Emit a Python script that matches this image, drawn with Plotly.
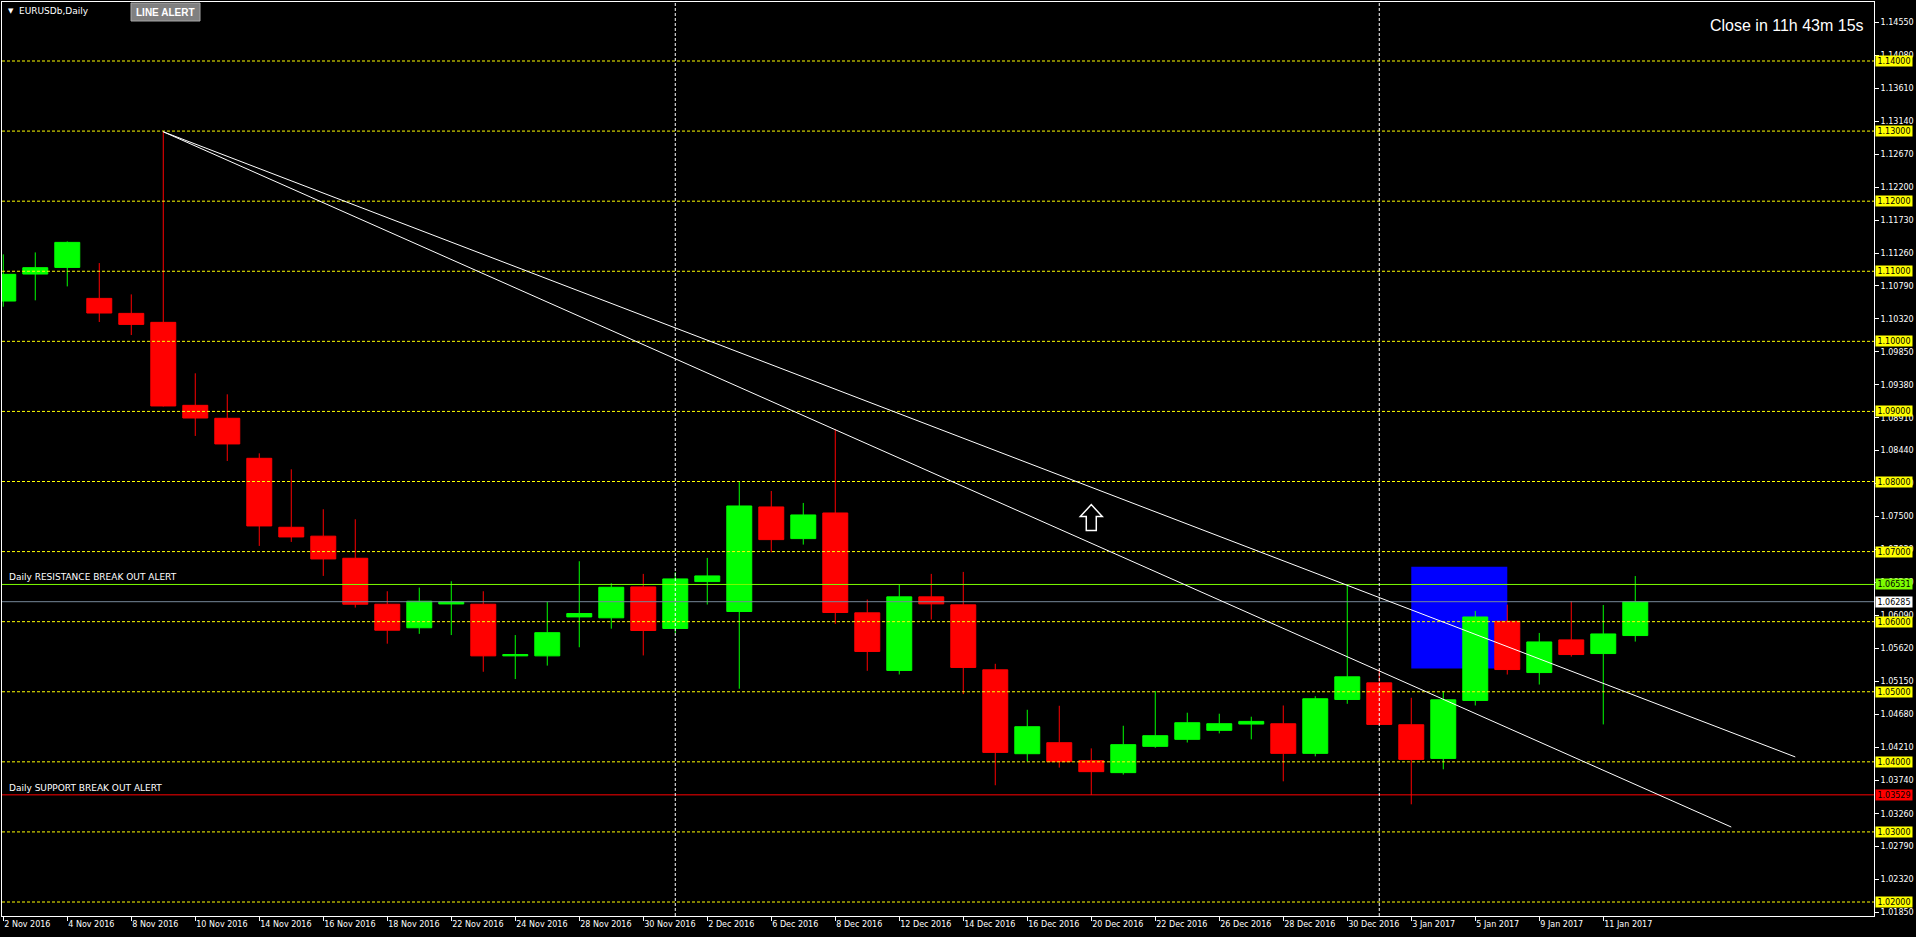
import plotly.graph_objects as go

# ---------------- data ----------------
dates = [
    "2 Nov 2016", "3 Nov 2016", "4 Nov 2016", "7 Nov 2016", "8 Nov 2016", "9 Nov 2016",
    "10 Nov 2016", "11 Nov 2016", "14 Nov 2016", "15 Nov 2016", "16 Nov 2016", "17 Nov 2016",
    "18 Nov 2016", "21 Nov 2016", "22 Nov 2016", "23 Nov 2016", "24 Nov 2016", "25 Nov 2016",
    "28 Nov 2016", "29 Nov 2016", "30 Nov 2016", "1 Dec 2016", "2 Dec 2016", "5 Dec 2016",
    "6 Dec 2016", "7 Dec 2016", "8 Dec 2016", "9 Dec 2016", "12 Dec 2016", "13 Dec 2016",
    "14 Dec 2016", "15 Dec 2016", "16 Dec 2016", "19 Dec 2016", "20 Dec 2016", "21 Dec 2016",
    "22 Dec 2016", "23 Dec 2016", "26 Dec 2016", "27 Dec 2016", "28 Dec 2016", "29 Dec 2016",
    "30 Dec 2016", "2 Jan 2017", "3 Jan 2017", "4 Jan 2017", "5 Jan 2017", "6 Jan 2017",
    "9 Jan 2017", "10 Jan 2017", "11 Jan 2017", "12 Jan 2017",
]
opens = [
    1.10575, 1.10960, 1.11055, 1.10613, 1.10399, 1.10271, 1.09087, 1.08902, 1.08331, 1.07347,
    1.07220, 1.06905, 1.06249, 1.05913, 1.06253, 1.06249, 1.05512, 1.05512, 1.06068, 1.06055,
    1.06496, 1.05903, 1.06572, 1.06145, 1.07637, 1.07185, 1.07551, 1.06126, 1.05304, 1.06354,
    1.06240, 1.05313, 1.04116, 1.04273, 1.04017, 1.03846, 1.04221, 1.04321, 1.04449, 1.04539,
    1.04543, 1.04121, 1.04890, 1.05127, 1.04529, 1.04049, 1.04876, 1.06006, 1.05274, 1.05740,
    1.05545, 1.05802,
]
highs = [
    1.11241, 1.11269, 1.11426, 1.11117, 1.10670, 1.12990, 1.09544, 1.09244, 1.08402, 1.08174,
    1.07604, 1.07461, 1.06434, 1.06486, 1.06577, 1.06434, 1.05809, 1.06282, 1.06862, 1.06548,
    1.06682, 1.06705, 1.06910, 1.08000, 1.07865, 1.07694, 1.08748, 1.06316, 1.06530, 1.06682,
    1.06710, 1.05399, 1.04743, 1.04800, 1.04192, 1.04515, 1.05010, 1.04701, 1.04687, 1.04644,
    1.04804, 1.04937, 1.06533, 1.05327, 1.04914, 1.05009, 1.06153, 1.06243, 1.05839, 1.06291,
    1.06238, 1.06651,
]
lows = [
    1.10494, 1.10585, 1.10784, 1.10276, 1.10090, 1.09070, 1.08650, 1.08293, 1.07081, 1.07138,
    1.06653, 1.06201, 1.05686, 1.05826, 1.05809, 1.05285, 1.05181, 1.05373, 1.05635, 1.05900,
    1.05518, 1.05836, 1.06245, 1.05043, 1.06990, 1.07100, 1.05969, 1.05299, 1.05247, 1.06031,
    1.04967, 1.03666, 1.04007, 1.03918, 1.03527, 1.03818, 1.04200, 1.04276, 1.04406, 1.04321,
    1.03722, 1.04078, 1.04828, 1.04520, 1.03394, 1.03893, 1.04804, 1.05246, 1.05103, 1.05502,
    1.04534, 1.05716,
]
closes = [
    1.10956, 1.11051, 1.11412, 1.10404, 1.10242, 1.09078, 1.08906, 1.08536, 1.07366, 1.07209,
    1.06895, 1.06249, 1.05878, 1.06292, 1.06282, 1.05512, 1.05530, 1.05843, 1.06116, 1.06491,
    1.05874, 1.06610, 1.06653, 1.07651, 1.07171, 1.07523, 1.06131, 1.05575, 1.06354, 1.06254,
    1.05347, 1.04135, 1.04501, 1.04002, 1.03860, 1.04245, 1.04373, 1.04558, 1.04544, 1.04577,
    1.04121, 1.04900, 1.05213, 1.04534, 1.04035, 1.04885, 1.06067, 1.05317, 1.05711, 1.05531,
    1.05825, 1.06285,
]

level_lines = [1.14, 1.13, 1.12, 1.11, 1.10, 1.09, 1.08, 1.07, 1.06, 1.05, 1.04, 1.03, 1.02]
level_labels = ["1.14000", "1.13000", "1.12000", "1.11000", "1.10000", "1.09000", "1.08000",
                "1.07000", "1.06000", "1.05000", "1.04000", "1.03000", "1.02000"]
resistance_level = 1.06531
support_level = 1.03529
bid_level = 1.06285
separator_bars = [21, 43]
trend_upper_x = [5, 56]
trend_upper_y = [1.1299, 1.0407]
trend_lower_x = [5, 54]
trend_lower_y = [1.1299, 1.0307]
box_bars = [44, 47]
box_prices = [1.05331, 1.06784]
arrow_bar = 34
arrow_price = 1.07485
y_tick_labels = ["1.14550", "1.14080", "1.13610", "1.13140", "1.12670", "1.12200", "1.11730",
                 "1.11260", "1.10790", "1.10320", "1.09850", "1.09380", "1.08910", "1.08440",
                 "1.07970", "1.07500", "1.07030", "1.06560", "1.06090", "1.05620", "1.05150",
                 "1.04680", "1.04210", "1.03740", "1.03260", "1.02790", "1.02320", "1.01850"]

bars = list(range(len(dates)))
x_label_bars = bars[::2]

AXFONT = dict(family="DejaVu Sans", size=8, color="white")

fig = go.Figure()
fig.add_trace(go.Candlestick(
    x=bars, open=opens, high=highs, low=lows, close=closes,
    increasing=dict(line=dict(color="#00FF00", width=1), fillcolor="#00FF00"),
    decreasing=dict(line=dict(color="#FF0000", width=1), fillcolor="#FF0000"),
    whiskerwidth=0, showlegend=False, hoverinfo="skip",
))

shapes = []
# background rectangle
shapes.append(dict(type="rect", xref="x", yref="y", x0=box_bars[0], x1=box_bars[1],
                   y0=box_prices[0], y1=box_prices[1], fillcolor="#0000FF",
                   line=dict(width=0), layer="below"))
# yellow dashed levels
for lv in level_lines:
    shapes.append(dict(type="line", xref="paper", yref="y", x0=0, x1=1, y0=lv, y1=lv,
                       line=dict(color="#FFFF00", width=1, dash="3px,2px"), layer="above"))
# alert / bid lines
shapes.append(dict(type="line", xref="paper", yref="y", x0=0, x1=1, y0=resistance_level,
                   y1=resistance_level, line=dict(color="#7CFC00", width=1), layer="above"))
shapes.append(dict(type="line", xref="paper", yref="y", x0=0, x1=1, y0=bid_level,
                   y1=bid_level, line=dict(color="#778899", width=1), layer="above"))
shapes.append(dict(type="line", xref="paper", yref="y", x0=0, x1=1, y0=support_level,
                   y1=support_level, line=dict(color="#FF0000", width=1), layer="above"))
# period separators
for sb in separator_bars:
    shapes.append(dict(type="line", xref="x", yref="paper", x0=sb, x1=sb, y0=0, y1=1,
                       line=dict(color="white", width=1, dash="3px,2px"), layer="above"))
# trend lines
for tx, ty in ((trend_upper_x, trend_upper_y), (trend_lower_x, trend_lower_y)):
    shapes.append(dict(type="line", xref="x", yref="y", x0=tx[0], x1=tx[1], y0=ty[0], y1=ty[1],
                       line=dict(color="white", width=1), layer="above"))
# hollow up arrow
shapes.append(dict(type="path", xref="x", yref="y", xsizemode="pixel", ysizemode="pixel",
                   xanchor=arrow_bar, yanchor=arrow_price,
                   path="M -5 -13 L 5 -13 L 5 1 L 11 1 L 0 13 L -11 1 L -5 1 Z",
                   fillcolor="black", line=dict(color="white", width=1.5), layer="above"))
# LINE ALERT button
shapes.append(dict(type="rect", xref="paper", yref="paper", xsizemode="pixel", ysizemode="pixel",
                   xanchor=0, yanchor=1, x0=129, x1=198, y0=-1, y1=-19,
                   fillcolor="#808080", line=dict(color="#A8A8A8", width=1), layer="above"))

annotations = []
for lv, lab in zip(level_lines, level_labels):
    annotations.append(dict(xref="paper", yref="y", x=1, y=lv, xanchor="left", yanchor="middle",
                            xshift=1, text=lab, showarrow=False, bgcolor="#FFFF00",
                            font=dict(family="DejaVu Sans", size=8, color="black"),
                            width=36, height=10, borderpad=0))
for lv, bg in ((resistance_level, "#7CFC00"), (bid_level, "#FFFFFF"), (support_level, "#FF0000")):
    annotations.append(dict(xref="paper", yref="y", x=1, y=lv, xanchor="left", yanchor="middle",
                            xshift=1, text=f"{lv:.5f}", showarrow=False, bgcolor=bg,
                            font=dict(family="DejaVu Sans", size=8, color="black"),
                            width=36, height=10, borderpad=0))
annotations.append(dict(xref="paper", yref="y", x=0, y=resistance_level, xanchor="left",
                        yanchor="bottom", xshift=5, yshift=0, showarrow=False,
                        text="Daily RESISTANCE BREAK OUT ALERT",
                        font=dict(family="DejaVu Sans", size=9, color="white")))
annotations.append(dict(xref="paper", yref="y", x=0, y=support_level, xanchor="left",
                        yanchor="bottom", xshift=5, yshift=0, showarrow=False,
                        text="Daily SUPPORT BREAK OUT ALERT",
                        font=dict(family="DejaVu Sans", size=9, color="white")))
annotations.append(dict(xref="paper", yref="paper", x=0, y=1, xanchor="left", yanchor="middle",
                        xshift=4, yshift=-9, showarrow=False, text="▼",
                        font=dict(family="DejaVu Sans", size=7, color="white")))
annotations.append(dict(xref="paper", yref="paper", x=0, y=1, xanchor="left", yanchor="middle",
                        xshift=15, yshift=-9, showarrow=False, text="EURUSDb,Daily",
                        font=dict(family="DejaVu Sans", size=9, color="white")))
annotations.append(dict(xref="paper", yref="paper", x=0, y=1, xanchor="center", yanchor="middle",
                        xshift=163, yshift=-10, showarrow=False, text="<b>LINE ALERT</b>",
                        font=dict(family="Liberation Sans Narrow, Liberation Sans", size=10,
                                  color="white")))
annotations.append(dict(xref="paper", yref="paper", x=1, y=1, xanchor="right", yanchor="middle",
                        xshift=-8, yshift=-23, showarrow=False, text="Close in 11h 43m 15s",
                        font=dict(family="Liberation Sans", size=16, color="white")))

fig.update_layout(
    width=1916, height=937,
    margin=dict(l=2, r=42, t=2, b=21, pad=0),
    paper_bgcolor="black", plot_bgcolor="black",
    boxgap=0.22, boxgroupgap=0, showlegend=False, hovermode=False,
    shapes=shapes, annotations=annotations,
    xaxis=dict(range=[-0.04, 58.46], rangeslider=dict(visible=False),
               tickmode="array", tickvals=x_label_bars,
               ticktext=[dates[i] for i in x_label_bars],
               ticks="outside", ticklen=4, tickcolor="white", tickwidth=1,
               ticklabelposition="outside right",
               tickfont=AXFONT, showgrid=False, zeroline=False,
               showline=True, linecolor="white", linewidth=1, mirror=True),
    yaxis=dict(side="right", range=[1.018003, 1.14842],
               tickmode="array", tickvals=[float(s) for s in y_tick_labels],
               ticktext=y_tick_labels,
               ticks="outside", ticklen=4, tickcolor="white", tickwidth=1,
               tickfont=AXFONT, showgrid=False, zeroline=False,
               showline=True, linecolor="white", linewidth=1, mirror=True),
)

fig.write_html(
    "out.html",
    config={"displayModeBar": False},
    post_script="document.body.style.margin='0';document.body.style.overflow='hidden';"
                "document.body.style.background='black';",
)
